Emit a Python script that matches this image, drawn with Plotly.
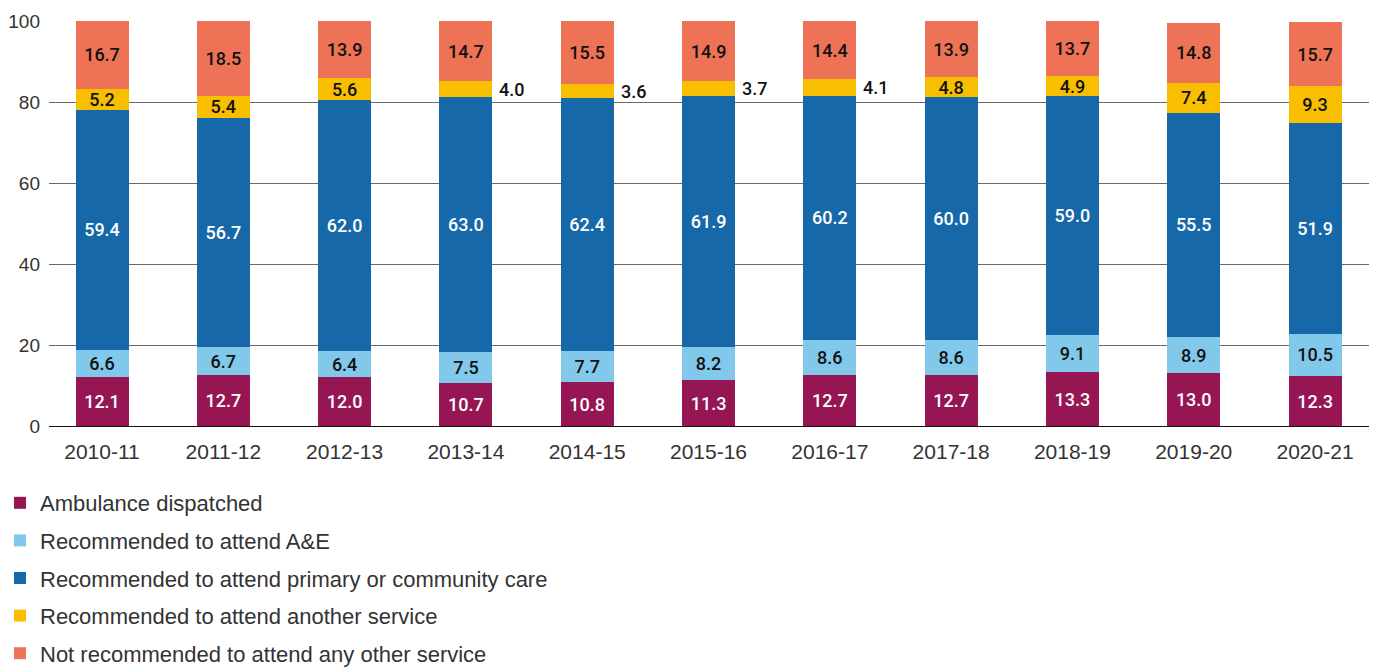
import plotly.graph_objects as go

years = ["2010-11", "2011-12", "2012-13", "2013-14", "2014-15", "2015-16",
         "2016-17", "2017-18", "2018-19", "2019-20", "2020-21"]

ambulance = [12.1, 12.7, 12.0, 10.7, 10.8, 11.3, 12.7, 12.7, 13.3, 13.0, 12.3]
attend_ae = [6.6, 6.7, 6.4, 7.5, 7.7, 8.2, 8.6, 8.6, 9.1, 8.9, 10.5]
primary_care = [59.4, 56.7, 62.0, 63.0, 62.4, 61.9, 60.2, 60.0, 59.0, 55.5, 51.9]
another_service = [5.2, 5.4, 5.6, 4.0, 3.6, 3.7, 4.1, 4.8, 4.9, 7.4, 9.3]
no_service = [16.7, 18.5, 13.9, 14.7, 15.5, 14.9, 14.4, 13.9, 13.7, 14.8, 15.7]

series = [
    ("Ambulance dispatched", ambulance, "#951653", "white"),
    ("Recommended to attend A&E", attend_ae, "#82C8EA", "#111111"),
    ("Recommended to attend primary or community care", primary_care, "#1668A8", "white"),
    ("Recommended to attend another service", another_service, "#F8BE00", "#111111"),
    ("Not recommended to attend any other service", no_service, "#EE7356", "#111111"),
]

# segments too thin for an inside label get their value written beside the bar
OUTSIDE_MIN = 4.2

BARGAP = 0.563
LABEL_FONT = "Roboto"
TEXT_FONT = "Liberation Sans"

fig = go.Figure()
annotations = []
base = [0.0] * len(years)
for gi, (name, vals, color, txtcol) in enumerate(series):
    texts = []
    for i, v in enumerate(vals):
        if name.endswith("another service") and v < OUTSIDE_MIN:
            texts.append("")
            annotations.append(dict(
                x=i + (1 - BARGAP) / 2, y=base[i] + v / 2, xref="x", yref="y",
                text=f"{v:.1f}", showarrow=False, xanchor="left", xshift=5,
                font=dict(family=LABEL_FONT, size=18, weight=500, color="#111111"),
            ))
        else:
            texts.append(f"{v:.1f}")
    fig.add_trace(go.Bar(
        name=name, x=list(range(len(years))), y=vals,
        marker=dict(color=color, line=dict(width=0)),
        text=texts, textposition="inside", insidetextanchor="middle",
        textangle=0,
        textfont=dict(family=LABEL_FONT, size=18, weight=500, color=txtcol),
        legendgroup=f"g{gi}", hoverinfo="skip",
    ))
    base = [b + v for b, v in zip(base, vals)]

fig.update_layout(
    barmode="stack",
    bargap=BARGAP,
    width=1377, height=668,
    margin=dict(l=49, r=8, t=21, b=242, autoexpand=False),
    plot_bgcolor="white", paper_bgcolor="white",
    uniformtext=dict(minsize=18, mode="show"),
    font=dict(family=TEXT_FONT, color="#333333"),
    xaxis=dict(
        range=[-0.437, 10.445],
        tickmode="array", tickvals=list(range(len(years))), ticktext=years,
        tickfont=dict(size=21, color="#333333"),
        showgrid=False, zeroline=False, showline=False, ticks="",
        ticklabelstandoff=11,
    ),
    yaxis=dict(
        range=[0, 100], tickvals=[0, 20, 40, 60, 80, 100],
        tickfont=dict(size=19, color="#333333"),
        showgrid=True, gridcolor="#6a6a6a", gridwidth=1,
        zeroline=True, zerolinecolor="#111111", zerolinewidth=1,
        showline=False, ticks="", ticklabelstandoff=8,
    ),
    legend=dict(
        xref="container", yref="container", x=0.0, y=1 - 482 / 668,
        xanchor="left", yanchor="top",
        orientation="v", traceorder="grouped", tracegroupgap=6,
        font=dict(family=TEXT_FONT, size=22, color="#333333"),
        bgcolor="rgba(0,0,0,0)",
    ),
    showlegend=True,
    annotations=annotations,
)

fig.write_html("out.html")
